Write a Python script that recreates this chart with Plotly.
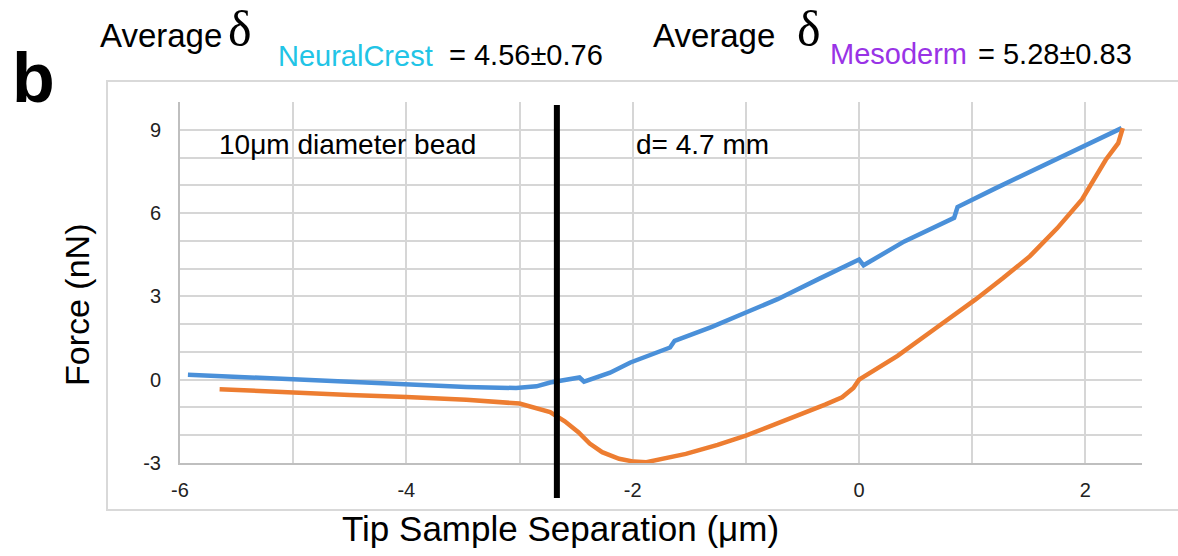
import plotly.graph_objects as go

# ---- data ----
approach_x = [-5.93, -5.5, -5.0, -4.5, -4.12, -3.8, -3.47, -3.03, -2.85, -2.73, -2.6, -2.47, -2.43,
              -2.2, -2.02, -1.85, -1.67, -1.63, -1.3, -1.0, -0.72, -0.35, 0.0, 0.04, 0.4, 0.84,
              0.87, 1.2, 1.51, 1.9, 2.32]
approach_y = [0.18, 0.1, 0.0, -0.07, -0.14, -0.2, -0.26, -0.30, -0.24, -0.1, 0.0, 0.08, -0.07,
              0.25, 0.62, 0.88, 1.16, 1.40, 1.9, 2.42, 2.9, 3.64, 4.33, 4.12, 4.98, 5.83,
              6.22, 6.88, 7.48, 8.24, 9.06]

retract_x = [-5.65, -5.0, -4.5, -4.0, -3.47, -3.0, -2.87, -2.73, -2.6, -2.48, -2.38, -2.27, -2.12,
             -1.99, -1.88, -1.7, -1.53, -1.25, -1.0, -0.75, -0.54, -0.3, -0.15, -0.05, 0.0, 0.34,
             0.68, 1.03, 1.27, 1.51, 1.75, 1.97, 2.18, 2.29, 2.33]
retract_y = [-0.34, -0.48, -0.55, -0.62, -0.72, -0.86, -1.0, -1.17, -1.5, -1.89, -2.3, -2.61, -2.85,
             -2.95, -2.97, -2.82, -2.67, -2.35, -2.01, -1.62, -1.29, -0.9, -0.63, -0.3, 0.0, 0.86,
             1.86, 2.89, 3.65, 4.45, 5.45, 6.49, 7.92, 8.52, 9.06]

contact_x = -2.67
x_ticks = [-6, -4, -2, 0, 2]
x_ticktext = ["-6", "-4", "-2", "0", "2"]
y_ticks = [-3, 0, 3, 6, 9]
y_ticktext = ["-3", "0", "3", "6", "9"]

# ---- layout geometry (pixels) ----
W, H = 1178, 556
L, R, T, B = 180, 1142, 102, 463


def px(xp):
    return (xp - L) / (R - L)


def py(yp):
    return (B - yp) / (B - T)


fig = go.Figure()
fig.add_trace(go.Scatter(x=approach_x, y=approach_y, mode="lines",
                         line=dict(color="#4A90D9", width=4.5), showlegend=False))
fig.add_trace(go.Scatter(x=retract_x, y=retract_y, mode="lines",
                         line=dict(color="#ED7D31", width=4.5), showlegend=False))

GRID = "#d6d6d6"
TICKFONT = dict(family="Arial, Liberation Sans", size=20, color="#222")
fig.update_xaxes(range=[-6, 2.5], tickvals=x_ticks, ticktext=x_ticktext,
                 showgrid=True, gridcolor=GRID, gridwidth=1.5,
                 minor=dict(dtick=1, tick0=0, showgrid=True, gridcolor=GRID, gridwidth=1.5),
                 showline=True, linecolor="#bfbfbf", linewidth=2, zeroline=False,
                 tickfont=TICKFONT, ticklabelstandoff=8)
fig.update_yaxes(range=[-3, 10], tickvals=y_ticks, ticktext=y_ticktext,
                 showgrid=True, gridcolor=GRID, gridwidth=1.5,
                 minor=dict(dtick=1, tick0=0, showgrid=True, gridcolor=GRID, gridwidth=1.5),
                 showline=True, linecolor="#bfbfbf", linewidth=2, zeroline=False,
                 tickfont=TICKFONT, ticklabelstandoff=13)

# contact-point marker line
fig.add_shape(type="line", xref="x", yref="paper", x0=contact_x, x1=contact_x,
              y0=py(498), y1=py(105), line=dict(color="black", width=6))
# outer frame
fig.add_shape(type="rect", xref="paper", yref="paper", x0=px(107), x1=px(1190),
              y0=py(510), y1=py(81), line=dict(color="#d9d9d9", width=2), layer="below")

SANS = "Arial, Liberation Sans"
SERIF = "Times New Roman, Liberation Serif"


def text(s, x, yb, size, color="black", family=SANS, xanchor="left", bold=False):
    # yb = baseline pixel; place by approx middle of caps
    if bold:
        s = "<b>" + s + "</b>"
    fig.add_annotation(text=s, xref="paper", yref="paper", x=px(x), y=py(yb - 0.36 * size),
                       xanchor=xanchor, yanchor="middle", showarrow=False,
                       font=dict(family=family, size=size, color=color))


text("b", 10, 103, 70, bold=True)
text("Average", 98, 47, 33)
text("δ", 226, 47, 50, family=SERIF)
text("NeuralCrest", 276, 66, 29, color="#22C4E6")
text("= 4.56±0.76", 447, 65, 29)
text("Average", 651, 47, 33)
text("δ", 795, 47, 50, family=SERIF)
text("Mesoderm", 828, 64, 29, color="#9933E6")
text("= 5.28±0.83", 976, 64, 29)

text("10μm diameter bead", 217, 155, 28)
text("d= 4.7 mm", 634, 155, 28)

text("Tip Sample Separation (μm)", 560, 541, 35, xanchor="center")
fig.add_annotation(text="Force (nN)", xref="paper", yref="paper", x=px(77), y=py(305),
                   xanchor="center", yanchor="middle", showarrow=False, textangle=-90,
                   font=dict(family=SANS, size=34, color="black"))

fig.update_layout(width=W, height=H, margin=dict(l=L, r=W - R, t=T, b=H - B),
                  plot_bgcolor="white", paper_bgcolor="white")

fig.write_html("out.html", config={"displayModeBar": False},
               post_script="document.body.style.margin='0';document.body.style.overflow='hidden';")
